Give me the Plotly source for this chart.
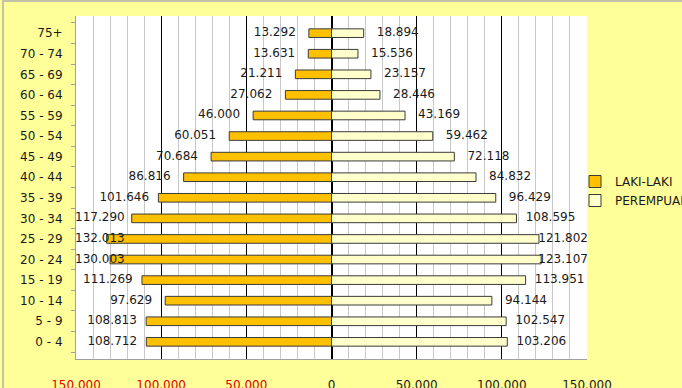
import plotly.graph_objects as go

age_groups = ["0 - 4", "5 - 9", "10 - 14", "15 - 19", "20 - 24", "25 - 29", "30 - 34",
              "35 - 39", "40 - 44", "45 - 49", "50 - 54", "55 - 59", "60 - 64",
              "65 - 69", "70 - 74", "75+"]
laki = [108712, 108813, 97629, 111269, 130003, 132013, 117290, 101646,
        86816, 70684, 60051, 46000, 27062, 21211, 13631, 13292]
perempuan = [103206, 102547, 94144, 113951, 123107, 121802, 108595, 96429,
             84832, 72118, 59462, 43169, 28446, 23157, 15536, 18894]
tick_values = [-150000, -100000, -50000, 0, 50000, 100000, 150000]
tick_labels = ["150.000", "100.000", "50.000", "0", "50.000", "100.000", "150.000"]


def fmt(v):
    return f"{v:,}".replace(",", ".")


FONT = "DejaVu Sans"
x_min, x_max = -150000, 150000
label_off = 20000
label_half = 14000

fig = go.Figure()
fig.add_trace(go.Bar(
    y=age_groups, x=[-v for v in laki], orientation="h", name="LAKI-LAKI",
    marker=dict(color="#FFC000", line=dict(color="#3a3a3a", width=1)),
))
fig.add_trace(go.Bar(
    y=age_groups, x=perempuan, orientation="h", name="PEREMPUAN",
    marker=dict(color="#FFFFCC", line=dict(color="#3a3a3a", width=1)),
))
fig.add_trace(go.Scatter(
    y=age_groups, x=[max(-v - label_off, x_min + label_half) for v in laki],
    mode="text", text=[fmt(v) for v in laki], textposition="middle center",
    textfont=dict(family=FONT, size=12, color="#1a1a1a"), showlegend=False,
    hoverinfo="skip", cliponaxis=False,
))
fig.add_trace(go.Scatter(
    y=age_groups, x=[min(v + label_off, x_max - label_half) for v in perempuan],
    mode="text", text=[fmt(v) for v in perempuan], textposition="middle center",
    textfont=dict(family=FONT, size=12, color="#1a1a1a"), showlegend=False,
    hoverinfo="skip", cliponaxis=False,
))

ticktext = [f"<span style='color:#e00000'>{t}</span>" if v < 0 else t
            for v, t in zip(tick_values, tick_labels)]

fig.update_layout(
    width=682, height=388,
    margin=dict(l=76, r=95, t=16, b=29, autoexpand=False),
    paper_bgcolor="#FFFF99", plot_bgcolor="white",
    barmode="overlay", bargap=0.58,
    font=dict(family=FONT, size=12, color="#1a1a1a"),
    legend=dict(xref="container", yref="container", x=575 / 682, xanchor="left",
                y=1 - 191 / 388, yanchor="middle",
                bgcolor="rgba(0,0,0,0)", font=dict(family=FONT, size=12, color="#1a1a1a"),
                tracegroupgap=0, itemwidth=30),
    xaxis=dict(range=[x_min, x_max], tickvals=tick_values, ticktext=ticktext,
               showgrid=True, gridcolor="black", gridwidth=1,
               zeroline=True, zerolinecolor="black", zerolinewidth=1.5,
               minor=dict(dtick=10000, tick0=0, showgrid=True, gridcolor="#c8c8c8", gridwidth=1),
               showline=True, linecolor="#a0a0a0", linewidth=1,
               ticks="", ticklabelstandoff=15, automargin=False, fixedrange=True),
    yaxis=dict(type="category", showgrid=False, showline=True, linecolor="#a0a0a0",
               linewidth=1, ticks="outside", ticklen=4, tickcolor="#a0a0a0",
               tickson="boundaries", ticklabelstandoff=10, automargin=False, fixedrange=True),
    shapes=[dict(type="rect", xref="paper", yref="paper",
                 x0=-73 / 511, x1=1.5, y0=-0.2, y1=1 + 15 / 343,
                 line=dict(color="#b0b0b0", width=1.5), fillcolor="rgba(0,0,0,0)",
                 layer="below")],
)

fig.write_html("out.html")
